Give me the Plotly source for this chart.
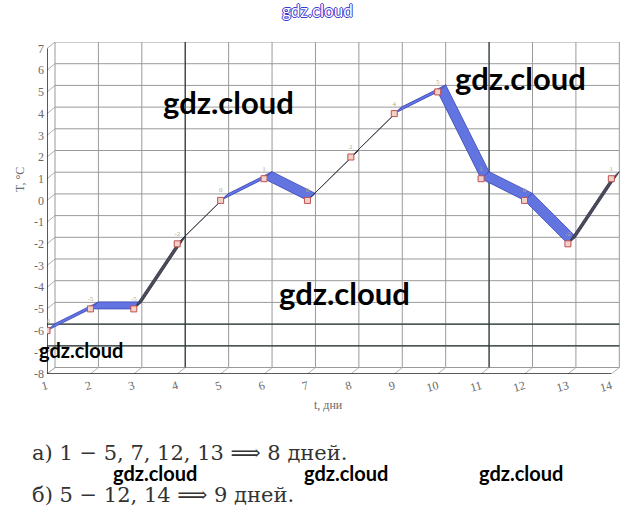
import plotly.graph_objects as go

# ---- data ----
days = [1, 2, 3, 4, 5, 6, 7, 8, 9, 10, 11, 12, 13, 14]
temps = [-6, -5, -5, -2, 0, 1, 0, 2, 4, 5, 1, 0, -2, 1]
y_ticks = list(range(-8, 8))
x_ticks = days
dark_x = [4, 11]
dark_y = [-6, -7]
line_a = "а) 1 − 5, 7, 12, 13 ⟹ 8 дней."
line_b = "б) 5 − 12, 14 ⟹ 9 дней."
wm = "gdz.cloud"

# ---- geometry ----
W, H = 634, 520
ML, MR, MT, MB = 47, 14, 42, 146
XR = [1, 14.2]
YR = [-8, 7.3]
pw = W - ML - MR
ph = H - MT - MB
sx = pw / (XR[1] - XR[0])
sy = ph / (YR[1] - YR[0])
DX = 8 / sx     # depth offset (data units)
DY = 6.5 / sy

def px(q):
    return (q - ML) / pw

def py(p):
    return (H - MB - p) / ph

fig = go.Figure()
grid_col = "#9a9a9a"

def seg(x0, y0, x1, y1, color, width):
    fig.add_trace(go.Scatter(x=[x0, x1], y=[y0, y1], mode="lines",
                             line=dict(color=color, width=width),
                             hoverinfo="skip", showlegend=False))

# back-wall grid
for v in y_ticks:
    seg(x_ticks[0] + DX, v + DY, x_ticks[-1] + DX, v + DY, grid_col, 1)
    seg(x_ticks[0], v, x_ticks[0] + DX, v + DY, "#b0b0b0", 1)
for d in x_ticks:
    seg(d + DX, y_ticks[0] + DY, d + DX, y_ticks[-1] + DY, grid_col, 1)
    seg(d, y_ticks[0], d + DX, y_ticks[0] + DY, "#b0b0b0", 1)

# dark reference lines
for d in dark_x:
    seg(d + DX, y_ticks[0] + DY, d + DX, y_ticks[-1] + DY, "#2a3a3a", 1.2)
for v in dark_y:
    seg(x_ticks[0], v + DY, x_ticks[-1] + DX, v + DY, "#2a3a3a", 1.2)

# front axes
seg(x_ticks[0], y_ticks[0], x_ticks[0], y_ticks[-1], "#222222", 1.5)
seg(x_ticks[0], y_ticks[0], x_ticks[-1], y_ticks[0], "#222222", 1.5)

# ribbon
RDY = 7 / sy
for i in range(len(days) - 1):
    x0, y0, x1, y1 = days[i], temps[i], days[i + 1], temps[i + 1]
    cross = -(x1 - x0) * sx * 7 + (y1 - y0) * sy * 8
    if cross < 0:
        fc, lc = "#6274e0", "#3a48b8"
    else:
        fc, lc = "#4a4c5c", "#2e3040"
    fig.add_trace(go.Scatter(
        x=[x0, x1, x1 + DX, x0 + DX, x0],
        y=[y0, y1, y1 + RDY, y0 + RDY, y0],
        mode="lines", fill="toself", fillcolor=fc,
        line=dict(color=lc, width=0.8),
        hoverinfo="skip", showlegend=False))

# markers
fig.add_trace(go.Scatter(
    x=days, y=temps, mode="markers",
    marker=dict(symbol="square", size=6, color="#f2d2c8",
                line=dict(color="#c05050", width=1)),
    showlegend=False, hoverinfo="skip"))

# point labels
fig.add_trace(go.Scatter(
    x=days, y=[t + 0.45 for t in temps], mode="text",
    text=[str(t) for t in temps],
    textfont=dict(size=7, color="#b8a888", family="Liberation Serif"),
    showlegend=False, hoverinfo="skip"))

tick_font = dict(family="Liberation Serif", size=12, color="#6a6a6a")
fig.update_xaxes(range=XR, tickvals=x_ticks, ticktext=[str(d) for d in x_ticks],
                 showgrid=False, zeroline=False, showline=False, automargin=False,
                 tickfont=tick_font, ticks="", tickangle=-15, ticklabelstandoff=2)
fig.update_yaxes(range=YR, tickvals=y_ticks, ticktext=[str(v) for v in y_ticks],
                 showgrid=False, zeroline=False, showline=False, automargin=False,
                 tickfont=tick_font, ticks="", ticklabelstandoff=2)

def note(cx, cy, text, font, xanchor="center", **kw):
    return dict(x=px(cx), y=py(cy), xref="paper", yref="paper", text=text,
                xanchor=xanchor, yanchor="middle", showarrow=False, font=font, **kw)

ann = []
lab_font = dict(family="Liberation Serif", size=12, color="#6a6a6a")
ann.append(note(20, 180, "T, °C", lab_font, textangle=-90))
ann.append(note(328, 405, "t, дни", lab_font))
txt_font = dict(family="DejaVu Serif", size=21, color="#333333")
ann.append(note(30, 453, line_a, txt_font, xanchor="left"))
ann.append(note(30, 495, line_b, txt_font, xanchor="left"))
for (cx, cy, s) in [(228, 102, 31), (520, 78, 31), (344, 293, 31), (81, 350, 20),
                    (155, 473, 20), (346, 473, 20), (521, 473, 20)]:
    ann.append(note(cx, cy, wm, dict(family="Lato", size=s, color="#000000", weight="bold")))
oc = "#3a3ad0"
ann.append(note(317, 11, wm, dict(family="Lato", size=17, color="#ffffff",
                                  shadow=f"1px 0 0 {oc}, -1px 0 0 {oc}, 0 1px 0 {oc}, 0 -1px 0 {oc}")))

fig.update_layout(width=W, height=H, margin=dict(l=ML, r=MR, t=MT, b=MB, autoexpand=False),
                  paper_bgcolor="white", plot_bgcolor="white",
                  annotations=ann, showlegend=False)
fig.write_html("out.html", config={"displayModeBar": False},
               post_script="document.body.style.margin='0';document.body.style.padding='0';")
